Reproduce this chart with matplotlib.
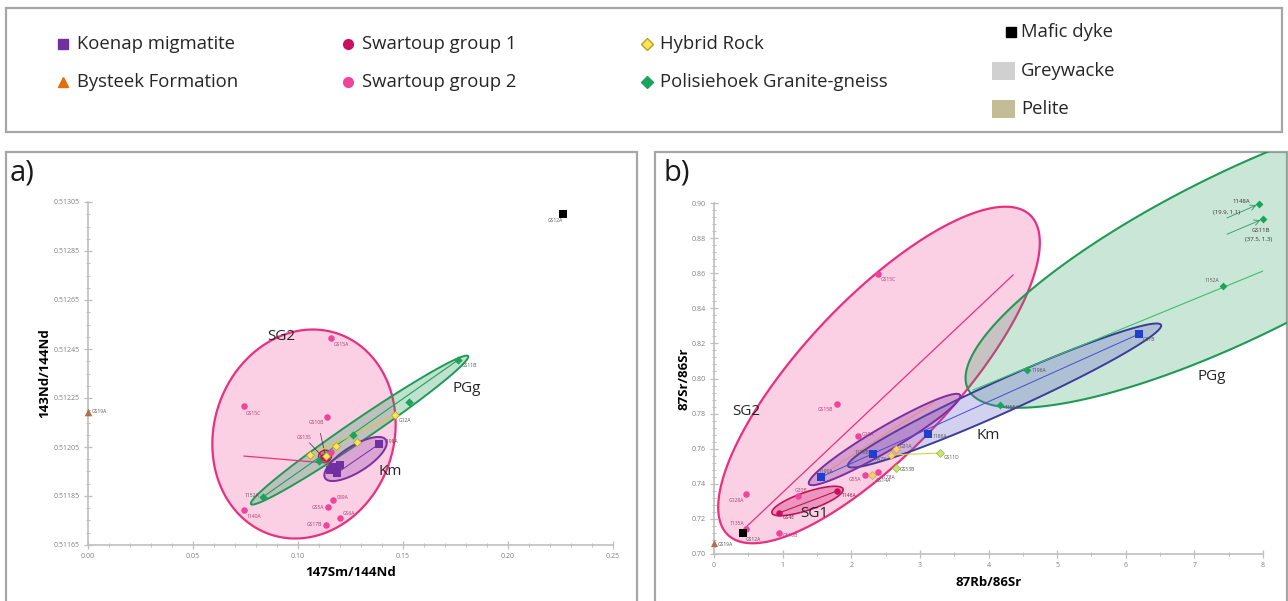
import numpy as np
import matplotlib
matplotlib.use("Agg")
import matplotlib.pyplot as plt
from matplotlib.patches import Rectangle, Polygon
from matplotlib.lines import Line2D
from matplotlib.ticker import MultipleLocator, FixedLocator, FormatStrFormatter

plt.rcParams['font.family'] = ['Open Sans', 'DejaVu Sans']

# ---------------------------------------------------------------- data
# Panel a: 147Sm/144Nd vs 143Nd/144Nd
a_yticks = [0.51165, 0.51185, 0.51205, 0.51225, 0.51245, 0.51265, 0.51285, 0.51305]

a_km_x = [0.1386, 0.1167, 0.1200, 0.1186, 0.1152]
a_km_y = [0.512062, 0.511968, 0.511977, 0.511944, 0.511956]
a_km_lab = ["1198A", "", "", "", ""]

a_by_x = [0.0]
a_by_y = [0.512193]
a_by_lab = ["GS19A"]

a_sg1_x = [0.1119, 0.1133]
a_sg1_y = [0.512009, 0.512004]

a_sg2_x = [0.1157, 0.0743, 0.1138, 0.0743, 0.1167, 0.1143, 0.1200, 0.1133, 0.1157]
a_sg2_y = [0.512495, 0.512217, 0.512172, 0.511793, 0.511834, 0.511805, 0.511760, 0.511732, 0.512030]
a_sg2_lab = ["GS15A", "GS15C", "GS10B", "1140A", "089A", "GS5A", "GS6A", "GS17B", ""]

a_hy_x = [0.1057, 0.1133, 0.1181, 0.1281, 0.1462]
a_hy_y = [0.512017, 0.512013, 0.512054, 0.512070, 0.512181]
a_hy_lab = ["", "", "", "", "G12A"]

a_pg_x = [0.0833, 0.1100, 0.1262, 0.1529, 0.1762]
a_pg_y = [0.511846, 0.511993, 0.512099, 0.512234, 0.512405]
a_pg_lab = ["1152A", "", "", "", "GS11B"]

a_md_x = [0.2262]
a_md_y = [0.513001]
a_md_lab = ["GS12A"]

# group envelopes, panel a: ends of the long axis (data)
a_env_sg2 = [(0.0872, 0.511692), (0.1185, 0.512514)]
a_env_pg = [(0.0776, 0.511817), (0.1810, 0.512421)]
a_env_km = [(0.1129, 0.511923), (0.1419, 0.512079)]
a_env_sg1 = [(0.1100, 0.512000), (0.1157, 0.512024)]
a_trend_sg2 = [(0.0743, 0.512013), (0.1129, 0.511985)]

# Panel b: 87Rb/86Sr vs 87Sr/86Sr
b_km_x = [1.559, 2.317, 3.118, 6.193]
b_km_y = [0.74387, 0.75700, 0.76838, 0.82536]
b_km_lab = ["1190A", "1178B", "1186A", "GS7B"]

b_by_x = [0.0]
b_by_y = [0.70627]
b_by_lab = ["GS19A"]

b_sg1_x = [0.947, 1.792]
b_sg1_y = [0.72336, 0.73590]
b_sg1_lab = ["GS4E", "1146A"]

b_sg2_x = [0.466, 0.466, 0.947, 2.390, 1.792, 2.098, 2.200, 2.390, 1.224]
b_sg2_y = [0.71425, 0.73419, 0.71197, 0.85954, 0.78547, 0.76724, 0.74501, 0.74672, 0.73305]
b_sg2_lab = ["1135A", "G128A", "GS10B", "GS15C", "GS15B", "G10A", "G55A", "1178A", "G30B"]

b_hy_x = [2.652, 2.579, 2.302, 2.652, 3.293]
b_hy_y = [0.75983, 0.75641, 0.74501, 0.74900, 0.75755]
b_hy_lab = ["G31A", "KA78", "GS14A", "GS53B", "GS11D"]

b_pg_x = [4.168, 4.561, 7.417, 7.942, 8.000]
b_pg_y = [0.78490, 0.80484, 0.85271, 0.89943, 0.89088]
b_pg_lab = ["1155A", "1196A", "1152A", "", ""]

b_md_x = [0.423]
b_md_y = [0.71197]
b_md_lab = ["GS12A"]

# off-scale samples: name and true (Rb/Sr, Sr/Sr) values
b_off_name = ["1148A", "GS11B"]
b_off_val = ["(19.9, 1.1)", "(37.5, 1.3)"]

b_env_sg2 = [(0.204, 0.71083), (4.605, 0.89316)]
b_env_pg = [(3.701, 0.79402), (11.628, 0.94730)]
b_env_km1 = [(1.384, 0.73989), (3.585, 0.79060)]
b_env_km2 = [(1.953, 0.75014), (6.514, 0.83049)]
b_env_sg1 = [(0.845, 0.72336), (1.880, 0.73704)]
b_trend_sg2 = [(0.452, 0.71481), (4.357, 0.85897)]
b_trend_pg = [(3.774, 0.79345), (8.0, 0.86125)]
b_trend_ex = [(1.69, 0.74790), (3.22, 0.78660)]

legend_items = ["Koenap migmatite", "Bysteek Formation", "Swartoup group 1",
                "Swartoup group 2", "Hybrid Rock", "Polisiehoek Granite-gneiss",
                "Mafic dyke", "Greywacke", "Pelite"]

# ---------------------------------------------------------------- style
C_KM = "#7030a0"
C_KM_B = "#1f3fd0"
C_BY = "#e46c0a"
C_BY_PT = "#b07050"
C_SG1 = "#c8105f"
C_SG2 = "#f0449a"
C_HY = "#ffe45c"
C_HY_E = "#b9a21a"
C_PG = "#1aa35a"
C_MD = "#000000"
C_GW = "#d0d0d0"
C_PE = "#c4bc96"
C_AX = "#bfbfbf"
C_TK = "#7f7f7f"

W, H = 1288, 601
fig = plt.figure(figsize=(W / 100, H / 100), dpi=100)


def fx(px):
    return px / W


def fy(py):
    return 1 - py / H


def frame(x0, y0, x1, y1):
    r = Rectangle((fx(x0), fy(y1)), fx(x1) - fx(x0), fy(y0) - fy(y1),
                  transform=fig.transFigure, fill=False, edgecolor="#a6a6a6",
                  linewidth=1.6, zorder=0)
    fig.add_artist(r)
    return Rectangle((fx(x0), fy(y1)), fx(x1) - fx(x0), fy(y0) - fy(y1),
                     transform=fig.transFigure)


def envelope(ax, ends, half_px, face, alpha, edge, lw=1.4, z=1, clip=None):
    p1 = ax.transData.transform(ends[0])
    p2 = ax.transData.transform(ends[1])
    c = (p1 + p2) / 2
    d = (p2 - p1) / 2
    u = d / np.hypot(*d)
    v = np.array([-u[1], u[0]]) * half_px
    t = np.linspace(0, 2 * np.pi, 300)
    pts = c + np.outer(np.cos(t), d) + np.outer(np.sin(t), v)
    pts = ax.transData.inverted().transform(pts)
    fc = matplotlib.colors.to_rgba(face, alpha)
    poly = Polygon(pts, closed=True, facecolor=fc, edgecolor=edge,
                   linewidth=lw, zorder=z)
    ax.add_patch(poly)
    if clip is not None:
        poly.set_clip_path(clip)
    return poly


def style_axes(ax):
    for s in ("top", "right"):
        ax.spines[s].set_visible(False)
    for s in ("left", "bottom"):
        ax.spines[s].set_color(C_AX)
        ax.spines[s].set_linewidth(1.2)
    ax.tick_params(which="major", direction="inout", length=6, width=0.9,
                   color=C_AX, labelsize=5, labelcolor=C_TK, pad=3)
    ax.tick_params(which="minor", direction="inout", length=3, width=0.7,
                   color=C_AX)
    ax.set_facecolor("none")


def labels(ax, xs, ys, labs, offs, color, size=3.6):
    for x, y, s, o in zip(xs, ys, labs, offs):
        if s:
            ax.annotate(s, (x, y), xytext=o[:2], textcoords="offset points",
                        fontsize=size, color=color, ha=o[2], va="center",
                        zorder=8, annotation_clip=False)


# ---------------------------------------------------------------- legend box
frame(6, 8, 1282, 132)
leg = [
    (63, 44, "s", C_KM, C_KM, 7, 77, legend_items[0]),
    (63, 82, "^", C_BY, C_BY, 7, 77, legend_items[1]),
    (348, 44, "o", C_SG1, C_SG1, 7, 362, legend_items[2]),
    (348, 82, "o", C_SG2, C_SG2, 7, 362, legend_items[3]),
    (647, 44, "D", C_HY, C_HY_E, 6, 660, legend_items[4]),
    (647, 82, "D", C_PG, C_PG, 6, 660, legend_items[5]),
    (1011, 32, "s", C_MD, C_MD, 7, 1021, legend_items[6]),
]
for mx, my, mk, fc, ec, ms, tx, txt in leg:
    fig.add_artist(Line2D([fx(mx)], [fy(my)], marker=mk, markersize=ms,
                          markerfacecolor=fc, markeredgecolor=ec,
                          linestyle="none", transform=fig.transFigure))
    fig.text(fx(tx), fy(my), txt, fontsize=13.3, va="center", ha="left",
             color="#262626")
for py, col, txt in [(71, C_GW, legend_items[7]), (109, C_PE, legend_items[8])]:
    fig.add_artist(Rectangle((fx(992), fy(py + 9)), fx(23), 18 / H,
                             transform=fig.transFigure, facecolor=col,
                             edgecolor="none"))
    fig.text(fx(1021), fy(py), txt, fontsize=13.3, va="center", ha="left",
             color="#262626")

# ---------------------------------------------------------------- panel a
clip_a = frame(6, 152, 637, 640)
axa = fig.add_axes([fx(88), fy(545), fx(613) - fx(88), fy(202) - fy(545)])
axa.set_xlim(0, 0.25)
axa.set_ylim(a_yticks[0], a_yticks[-1])
style_axes(axa)
axa.xaxis.set_major_locator(MultipleLocator(0.05))
axa.xaxis.set_minor_locator(MultipleLocator(0.01))
axa.yaxis.set_major_locator(FixedLocator(a_yticks))
axa.yaxis.set_minor_locator(FixedLocator(
    np.arange(a_yticks[0], a_yticks[-1] + 1e-7, 0.00005)))
axa.xaxis.set_major_formatter(FormatStrFormatter("%.2f"))
axa.yaxis.set_major_formatter(FormatStrFormatter("%.5f"))
axa.set_xlabel("147Sm/144Nd", fontsize=9.5, fontweight="bold", labelpad=4)
axa.set_ylabel("143Nd/144Nd", fontsize=9.5, fontweight="bold", labelpad=2)

envelope(axa, a_env_sg2, 90, C_SG2, 0.25, "#e8307f", 1.6, 1)
envelope(axa, a_env_pg, 10.5, "#2e9e5e", 0.3, "#1f9a55", 1.4, 2)
envelope(axa, a_env_km, 13, "#8e44ad", 0.3, "#7d2f9e", 1.4, 3)
envelope(axa, a_env_sg1, 6, C_SG1, 0.35, "#c8105f", 1.0, 3)

axa.plot(*zip(*a_trend_sg2), color="#e8307f", lw=0.9, zorder=4)
axa.plot([a_pg_x[0], a_pg_x[-1]], [a_pg_y[0], a_pg_y[-1]], color=C_PG,
         lw=0.8, zorder=4)
axa.plot([a_hy_x[0], a_hy_x[-1]], [a_hy_y[0], a_hy_y[-1]], color="#e0c830",
         lw=0.8, zorder=4)
axa.plot([a_km_x[3], a_km_x[0]], [a_km_y[3], a_km_y[0]], color=C_KM,
         lw=0.7, zorder=4)

axa.scatter(a_sg2_x, a_sg2_y, s=22, marker="o", color=C_SG2, zorder=6, lw=0)
axa.scatter(a_pg_x, a_pg_y, s=18, marker="D", color=C_PG, zorder=6, lw=0)
axa.scatter(a_km_x, a_km_y, s=34, marker="s", color=C_KM, zorder=6, lw=0)
axa.scatter(a_sg1_x, a_sg1_y, s=22, marker="o", color=C_SG1, zorder=6, lw=0)
axa.scatter(a_hy_x, a_hy_y, s=16, marker="D", facecolor=C_HY,
            edgecolor=C_HY_E, lw=0.5, zorder=7)
axa.scatter(a_by_x, a_by_y, s=30, marker="^", color=C_BY_PT, zorder=6,
            lw=0, clip_on=False)
axa.scatter(a_md_x, a_md_y, s=36, marker="s", color=C_MD, zorder=6, lw=0)

labels(axa, a_sg2_x, a_sg2_y, a_sg2_lab,
       [(2, -5, "left"), (1, -5, "left"), (-2, -4, "right"), (2, -5, "left"),
        (3, 2, "left"), (-3, 0, "right"), (2, 3, "left"), (-3, 0, "right"),
        (0, 0, "left")], "#b03a70")
labels(axa, a_by_x, a_by_y, a_by_lab, [(3, 0, "left")], "#555555")
labels(axa, a_md_x, a_md_y, a_md_lab, [(0, -5, "right")], "#555555")
labels(axa, a_pg_x, a_pg_y, a_pg_lab,
       [(-3, 1, "right"), 0, 0, 0, (3, -4, "left")], "#555555")
labels(axa, a_hy_x, a_hy_y, a_hy_lab, [0, 0, 0, 0, (3, -4, "left")], "#555555")
labels(axa, a_km_x, a_km_y, a_km_lab, [(3, 2, "left"), 0, 0, 0, 0], "#555555")
axa.annotate("GS13S", (a_sg1_x[0], a_sg1_y[0]), xytext=(-8, 14),
             textcoords="offset points", fontsize=3.6, color="#b03a70",
             ha="right", va="center", zorder=8,
             arrowprops=dict(arrowstyle="-", color="#333333", lw=0.5,
                             shrinkA=0, shrinkB=1))
axa.annotate("", (a_sg1_x[1], a_sg1_y[1]), xytext=(-4, 18),
             textcoords="offset points",
             arrowprops=dict(arrowstyle="-", color="#333333", lw=0.5,
                             shrinkA=0, shrinkB=1))

axa.annotate("SG2", (0.0852, 0.512500), fontsize=11, color="#262626",
             ha="left", va="center", zorder=8)
axa.annotate("PGg", (0.1735, 0.512290), fontsize=11, color="#262626",
             ha="left", va="center", zorder=8)
axa.annotate("Km", (0.1385, 0.511950), fontsize=11, color="#262626",
             ha="left", va="center", zorder=8)
fig.text(fx(10), fy(173), "a)", fontsize=21, va="center", ha="left",
         color="#1a1a1a")

# ---------------------------------------------------------------- panel b
clip_b = frame(655, 152, 1287, 640)
axb = fig.add_axes([fx(714), fy(554), fx(1263) - fx(714), fy(203) - fy(554)])
axb.set_xlim(0, 8)
axb.set_ylim(0.70, 0.90)
style_axes(axb)
axb.xaxis.set_major_locator(MultipleLocator(1))
axb.xaxis.set_minor_locator(MultipleLocator(0.5))
axb.yaxis.set_major_locator(MultipleLocator(0.02))
axb.yaxis.set_minor_locator(MultipleLocator(0.004))
axb.xaxis.set_major_formatter(FormatStrFormatter("%d"))
axb.yaxis.set_major_formatter(FormatStrFormatter("%.2f"))
axb.set_xlabel("87Rb/86Sr", fontsize=9.5, fontweight="bold", labelpad=5)
axb.set_ylabel("87Sr/86Sr", fontsize=9.5, fontweight="bold", labelpad=1)

envelope(axb, b_env_sg2, 76, C_SG2, 0.25, "#e8307f", 1.6, 1, clip_b)
envelope(axb, b_env_pg, 82, "#2e9e5e", 0.25, "#1f9a55", 1.5, 2, clip_b)
envelope(axb, b_env_km2, 16, "#6a6ad0", 0.3, "#3b3b9a", 1.4, 3, clip_b)
envelope(axb, b_env_km1, 12, "#8e44ad", 0.35, "#7d2f9e", 1.4, 3, clip_b)
envelope(axb, b_env_sg1, 9, C_SG1, 0.3, "#c8105f", 1.2, 3, clip_b)

axb.plot(*zip(*b_trend_sg2), color="#e8307f", lw=0.9, zorder=4)
axb.plot(*zip(*b_trend_pg), color="#3cc070", lw=0.8, zorder=4)
axb.plot(*zip(*b_trend_ex), color="#e8907a", lw=0.8, zorder=4)
axb.plot([b_km_x[0], b_km_x[-1]], [b_km_y[0], b_km_y[-1]], color="#4a4ad0",
         lw=0.7, zorder=4)
axb.plot(b_sg1_x, b_sg1_y, color=C_SG1, lw=0.8, zorder=4)
axb.plot([b_hy_x[1], b_hy_x[-1]], [b_hy_y[1], b_hy_y[-1]], color="#d8d040",
         lw=0.8, zorder=4)

axb.scatter(b_sg2_x, b_sg2_y, s=22, marker="o", color=C_SG2, zorder=6, lw=0)
axb.scatter(b_sg1_x, b_sg1_y, s=22, marker="o", color=C_SG1, zorder=6, lw=0)
axb.scatter(b_pg_x, b_pg_y, s=16, marker="D", color=C_PG, zorder=6, lw=0,
            clip_on=False)
axb.scatter(b_km_x, b_km_y, s=32, marker="s", color=C_KM_B, zorder=6, lw=0)
axb.scatter(b_hy_x[:3], b_hy_y[:3], s=16, marker="D", facecolor="#f8d070",
            edgecolor="#d0a040", lw=0.5, zorder=7)
axb.scatter(b_hy_x[3:], b_hy_y[3:], s=16, marker="D", facecolor="#c8e870",
            edgecolor="#90b040", lw=0.5, zorder=7)
axb.scatter(b_by_x, b_by_y, s=26, marker="^", color=C_BY_PT, zorder=6,
            lw=0, clip_on=False)
axb.scatter(b_md_x, b_md_y, s=30, marker="s", color=C_MD, zorder=6, lw=0)

labels(axb, b_sg2_x, b_sg2_y, b_sg2_lab,
       [(-1, 4, "right"), (-1, -5, "right"), (3, -2, "left"), (2, -4, "left"),
        (-3, -4, "right"), (3, 1, "left"), (-3, -3, "right"), (2, -4, "left"),
        (-2, 4, "left")], "#b03a70")
labels(axb, b_sg1_x, b_sg1_y, b_sg1_lab, [(3, -3, "left"), (3, -3, "left")],
       "#6a2040")
labels(axb, b_km_x, b_km_y, b_km_lab,
       [(-2, 4, "left"), (-3, 1, "right"), (3, -2, "left"), (3, -4, "left")],
       "#555555")
labels(axb, b_hy_x, b_hy_y, b_hy_lab,
       [(3, 2, "left"), (-3, -3, "right"), (3, -4, "left"), (3, -1, "left"),
        (3, -3, "left")], "#555555")
labels(axb, b_pg_x, b_pg_y, b_pg_lab,
       [(3, -2, "left"), (3, 0, "left"), (-3, 4, "right"), 0, 0], "#555555")
labels(axb, b_by_x, b_by_y, b_by_lab, [(3, -1, "left")], "#555555")
labels(axb, b_md_x, b_md_y, b_md_lab, [(2, -5, "left")], "#555555")

# off-scale samples: arrows and their true values
off_layout = [((-6.5, 1.5), (-13.5, -5.8), (-23, -10)),
              ((5, -8), (6.5, -14.4), (-26, -11))]
for k, (name, val, lay) in enumerate(zip(b_off_name, b_off_val, off_layout)):
    px, py = b_pg_x[3 + k], b_pg_y[3 + k]
    axb.annotate("", (px, py), xytext=lay[2], textcoords="offset points",
                 zorder=8, annotation_clip=False,
                 arrowprops=dict(arrowstyle="->", color="#2a9a60", lw=0.6,
                                 shrinkA=0, shrinkB=2))
    axb.annotate(name, (px, py), xytext=lay[0], textcoords="offset points",
                 fontsize=4.3, color="#333333", ha="right", va="center",
                 zorder=8, annotation_clip=False)
    axb.annotate(val, (px, py), xytext=lay[1], textcoords="offset points",
                 fontsize=4.3, color="#333333", ha="right", va="center",
                 zorder=8, annotation_clip=False)

axb.annotate("SG2", (0.26, 0.7810), fontsize=11, color="#262626",
             ha="left", va="center", zorder=8)
axb.annotate("SG1", (1.25, 0.7230), fontsize=11, color="#262626",
             ha="left", va="center", zorder=8)
axb.annotate("Km", (3.83, 0.7675), fontsize=11, color="#262626",
             ha="left", va="center", zorder=8)
axb.annotate("PGg", (7.05, 0.8010), fontsize=11, color="#262626",
             ha="left", va="center", zorder=8)
fig.text(fx(664), fy(173), "b)", fontsize=21, va="center", ha="left",
         color="#1a1a1a")

fig.savefig("out.png", dpi=100)
